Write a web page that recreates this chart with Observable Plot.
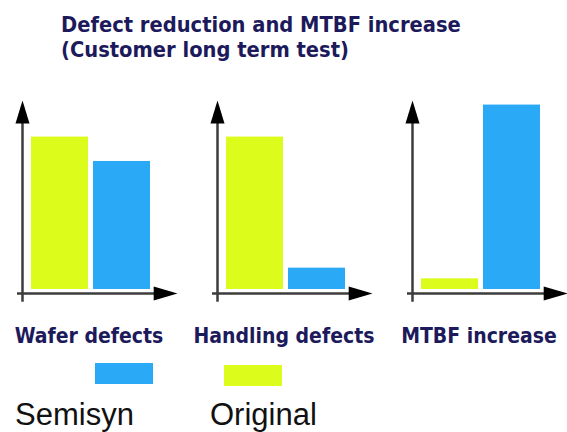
<!DOCTYPE html>
<html>
<head>
<meta charset="utf-8">
<script src="https://cdn.jsdelivr.net/npm/d3@7"></script>
<script src="https://cdn.jsdelivr.net/npm/@observablehq/plot@0.6"></script>
<style>
  html, body { margin: 0; padding: 0; background: #fff; }
  #wrap { position: relative; width: 567px; height: 432px; overflow: hidden; }
  #title {
    height: 70px; box-sizing: border-box; padding: 12px 0 0 61px;
    font-family: "DejaVu Sans Condensed", "DejaVu Sans", sans-serif;
    font-weight: bold; font-size: 21.7px; line-height: 25px; color: #1d1a5c;
    font-stretch: condensed;
  }
  #chart svg { display: block; }
  .sw { position: absolute; width: 58px; height: 21px; }
  .lab { position: absolute; font-family: "Liberation Sans", Arial, sans-serif;
         font-size: 31px; line-height: 31px; color: #111; white-space: nowrap; }
</style>
</head>
<body>
<div id="wrap">
  <div id="title"></div>
  <div id="chart"></div>
  <div id="legend"></div>
</div>
<script>
const titleLines = ["Defect reduction and MTBF increase", "(Customer long term test)"];
const categories = ["Wafer defects", "Handling defects", "MTBF increase"];
const seriesNames = ["Original", "Semisyn"];
const originalValues = [100, 100, 7];
const semisynValues = [84, 14, 121];
const seriesColors = ["#dcfc1c", "#29a9f6"];
const axisTop = 124;
const legendOrder = ["Semisyn", "Original"];

document.getElementById("title").innerHTML = titleLines.join("<br>");

const rows = categories.flatMap((c, i) => [
  {category: c, series: seriesNames[0], value: originalValues[i]},
  {category: c, series: seriesNames[1], value: semisynValues[i]}
]);

const upArrow = {
  draw(ctx, size) {
    const r = Math.sqrt(size / Math.PI);
    ctx.moveTo(0, 0); ctx.lineTo(-r, r * 3.3); ctx.lineTo(r, r * 3.3); ctx.closePath();
  }
};
const rightArrow = {
  draw(ctx, size) {
    const r = Math.sqrt(size / Math.PI);
    ctx.moveTo(0, 0); ctx.lineTo(-r * 3.4, -r); ctx.lineTo(-r * 3.4, r); ctx.closePath();
  }
};

const axisColor = "#3c3c3c";
const labelColor = "#1d1a5c";

const chart = Plot.plot({
  width: 567,
  height: 290,
  marginLeft: 22,
  marginRight: 0,
  marginTop: 30,
  marginBottom: 71,
  style: {background: "#fff", overflow: "visible"},
  fx: {domain: categories, paddingInner: 40 / 195, paddingOuter: 0, label: null},
  x: {domain: seriesNames, paddingInner: 0.08, paddingOuter: 0.29, align: 0.25, axis: null},
  y: {domain: [0, axisTop], axis: null},
  color: {domain: seriesNames, range: seriesColors},
  marks: [
    Plot.barY(rows, {fx: "category", x: "series", y: "value", fill: "series"}),
    Plot.frame({anchor: "left", stroke: axisColor, strokeWidth: 2.5, insetTop: 10, insetBottom: -11}),
    Plot.ruleY([0], {stroke: axisColor, strokeWidth: 2.5, dy: 4, insetLeft: -5, insetRight: 10}),
    Plot.dot([0], {x: null, y: null, frameAnchor: "top-left", symbol: upArrow, r: 7, fill: "#000", stroke: null}),
    Plot.dot([0], {x: null, y: null, frameAnchor: "bottom-right", dy: 4, symbol: rightArrow, r: 7, fill: "#000", stroke: null}),
    Plot.axisFx({anchor: "bottom", tickSize: 0, tickPadding: 39, label: null, dx: -11,
      fontSize: 21, fontWeight: "bold", fontFamily: "DejaVu Sans Condensed, DejaVu Sans, sans-serif",
      fill: labelColor})
  ]
});
document.getElementById("chart").appendChild(chart);

const legend = document.getElementById("legend");
const legendLayout = {
  Semisyn: {swLeft: 95, swTop: 363, labLeft: 15},
  Original: {swLeft: 224, swTop: 365, labLeft: 210}
};
legendOrder.forEach(name => {
  const color = seriesColors[seriesNames.indexOf(name)];
  const L = legendLayout[name];
  const sw = document.createElement("div");
  sw.className = "sw";
  sw.style.left = L.swLeft + "px"; sw.style.top = L.swTop + "px"; sw.style.background = color;
  legend.appendChild(sw);
  const lab = document.createElement("div");
  lab.className = "lab";
  lab.style.left = L.labLeft + "px"; lab.style.top = "399px";
  lab.textContent = name;
  legend.appendChild(lab);
});
</script>
</body>
</html>
